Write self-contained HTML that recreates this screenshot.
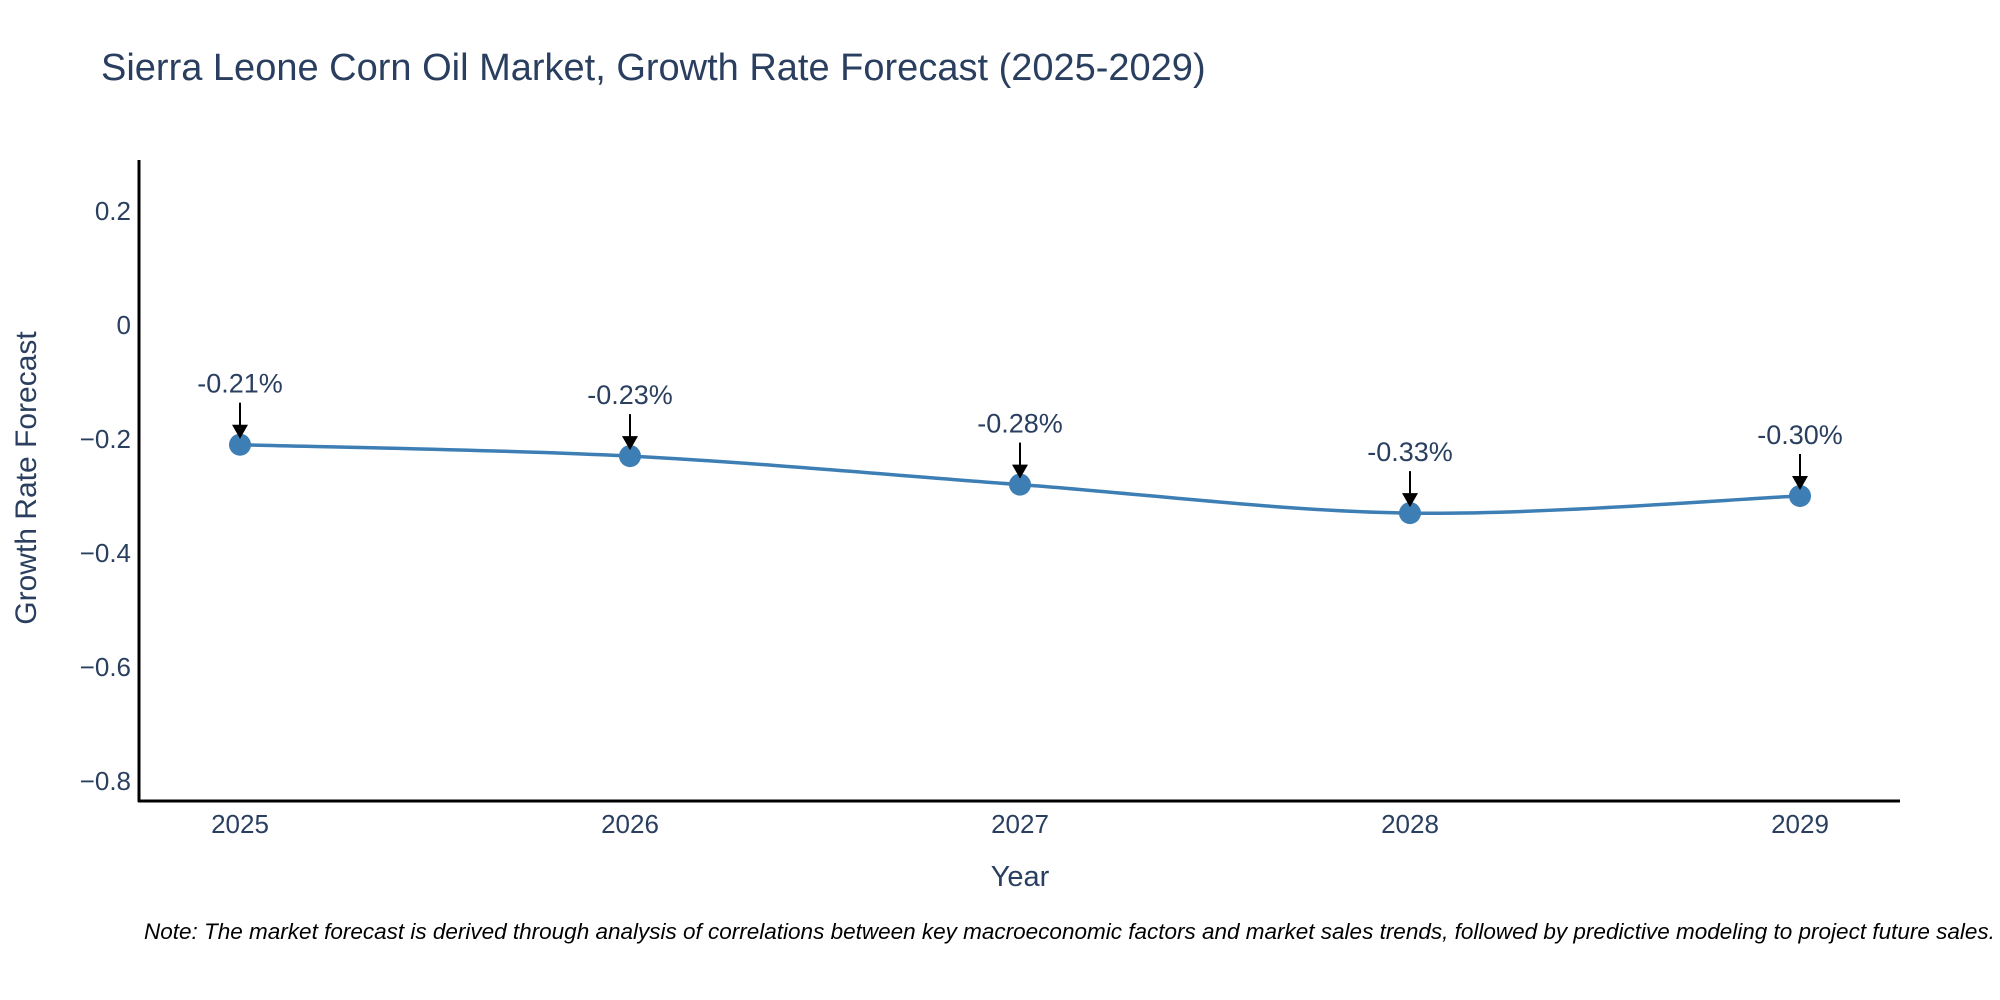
<!DOCTYPE html>
<html><head><meta charset="utf-8"><style>
body{margin:0;background:#fff;}
svg{display:block;font-family:"Liberation Sans",sans-serif;}
</style></head><body>
<svg id="chart" width="2000" height="1000">
<text x="101" y="80" font-size="38" fill="#2a3f5f">Sierra Leone Corn Oil Market, Growth Rate Forecast (2025-2029)</text>
<g id="yticks"></g>
<g id="xticks"></g>
<line x1="139" y1="160" x2="139" y2="802" stroke="#000" stroke-width="3"/>
<line x1="138" y1="801" x2="1900" y2="801" stroke="#000" stroke-width="3"/>
<text x="1020" y="886" font-size="29" fill="#2a3f5f" text-anchor="middle">Year</text>
<text transform="translate(36,478) rotate(-90)" font-size="30" fill="#2a3f5f" text-anchor="middle">Growth Rate Forecast</text>
<g id="series"></g>
<g id="annots"></g>
<text x="144" y="939" font-size="22.5" font-style="italic" fill="#000">Note: The market forecast is derived through analysis of correlations between key macroeconomic factors and market sales trends, followed by predictive modeling to project future sales.</text>
</svg>
<script>
const years = [2025, 2026, 2027, 2028, 2029];
const values = [-0.21, -0.23, -0.28, -0.33, -0.30];
const labels = ["-0.21%", "-0.23%", "-0.28%", "-0.33%", "-0.30%"];
const yTickValues = [0.2, 0, -0.2, -0.4, -0.6, -0.8];
const yTickLabels = ["0.2", "0", "\u22120.2", "\u22120.4", "\u22120.6", "\u22120.8"];

const NS = "http://www.w3.org/2000/svg";
function xs(year){ return 240 + (year - 2025) * 390; }
function ys(v){ return 325 - v * 570; }
function mk(tag, attrs, parent){ const e = document.createElementNS(NS, tag); for (const k in attrs) e.setAttribute(k, attrs[k]); parent.appendChild(e); return e; }

const yt = document.getElementById('yticks');
yTickValues.forEach((v, i) => {
  const t = mk('text', {x: 131, y: ys(v) + 9, 'font-size': 26, fill: '#2a3f5f', 'text-anchor': 'end'}, yt);
  
  
  t.textContent = yTickLabels[i];
});
const xt = document.getElementById('xticks');
years.forEach(y => {
  const t = mk('text', {x: xs(y), y: 833, 'font-size': 26, fill: '#2a3f5f', 'text-anchor': 'middle'}, xt);
  
  
  t.textContent = String(y);
});

const pts = years.map((y, i) => [xs(y), ys(values[i])]);
let d = `M${pts[0][0]},${pts[0][1]}`;
for (let i = 0; i < pts.length - 1; i++) {
  const p0 = pts[Math.max(0, i - 1)], p1 = pts[i], p2 = pts[i + 1], p3 = pts[Math.min(pts.length - 1, i + 2)];
  const c1 = [p1[0] + (p2[0] - p0[0]) / 6, p1[1] + (p2[1] - p0[1]) / 6];
  const c2 = [p2[0] - (p3[0] - p1[0]) / 6, p2[1] - (p3[1] - p1[1]) / 6];
  d += ` C${c1[0]},${c1[1]} ${c2[0]},${c2[1]} ${p2[0]},${p2[1]}`;
}
const sg = document.getElementById('series');
const line = mk('path', {d: d, fill: 'none', stroke: '#3d7eb4', 'stroke-width': 3.5}, sg);


pts.forEach(p => {
  const c = mk('circle', {cx: p[0], cy: p[1], r: 11, fill: '#3d7eb4'}, sg);
  
  
});

const ag = document.getElementById('annots');
pts.forEach((p, i) => {
  const g = mk('g', {}, ag);
  
  
  mk('line', {x1: p[0], y1: p[1] - 42, x2: p[0], y2: p[1] - 18, stroke: '#000', 'stroke-width': 2}, g);
  mk('path', {d: `M${p[0]-8},${p[1]-20} L${p[0]+8},${p[1]-20} L${p[0]},${p[1]-6} Z`, fill: '#000'}, g);
  const t = mk('text', {x: p[0], y: p[1] - 52, 'font-size': 27, fill: '#2a3f5f', 'text-anchor': 'middle'}, g);
  t.textContent = labels[i];
});
</script>
</body></html>
